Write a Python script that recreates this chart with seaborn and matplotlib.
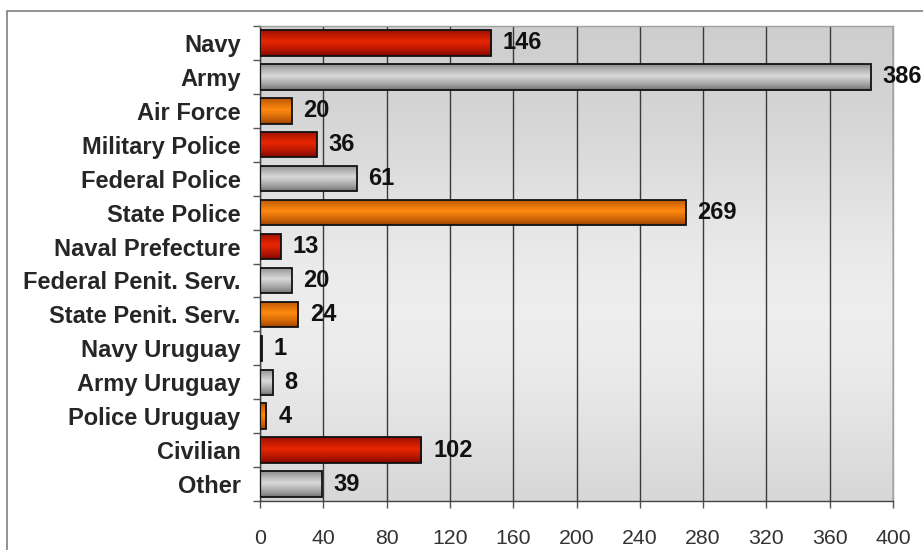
import numpy as np
import pandas as pd
import matplotlib
matplotlib.use("Agg")
import matplotlib.pyplot as plt
import seaborn as sns
from matplotlib.patches import Rectangle
from matplotlib.colors import to_rgb

# ── data ─────────────────────────────────────────────
categories = ["Navy", "Army", "Air Force", "Military Police", "Federal Police",
              "State Police", "Naval Prefecture", "Federal Penit. Serv.",
              "State Penit. Serv.", "Navy Uruguay", "Army Uruguay",
              "Police Uruguay", "Civilian", "Other"]
values = [146, 386, 20, 36, 61, 269, 13, 20, 24, 1, 8, 4, 102, 39]
x_ticks = list(range(0, 401, 40))

# colour cycle red / grey / orange, (edge shade, centre shade)
shades = [("#8a0a00", "#e82600"), ("#7c7c7c", "#d9d9d9"), ("#a84800", "#ff8a10")]

sns.set_theme(style="white")
plt.rcParams["font.family"] = ["Liberation Sans", "DejaVu Sans"]

df = pd.DataFrame({"cat": categories, "val": values})
pal = {c: shades[i % 3][1] for i, c in enumerate(categories)}

fig = plt.figure(figsize=(9.23, 5.5), dpi=100)
ax = fig.add_axes([260 / 923, 1 - 501 / 550, (893 - 260) / 923, (501 - 26) / 550])

sns.barplot(data=df, x="val", y="cat", hue="cat", palette=pal, legend=False,
            orient="h", width=0.75, ax=ax, edgecolor="#111111", linewidth=1.3,
            zorder=3)

# background gradient of the plotting area
t = np.linspace(0, 1, 200)
bg = 0.80 + 0.13 * np.exp(-((t - 0.6) / 0.35) ** 2)
bg_img = np.repeat(bg[:, None], 3, axis=1)[:, None, :]
ax.imshow(bg_img, extent=[0, 400, 14.0, -1.0], aspect="auto", zorder=0)

# bar gradients, clipped to each bar
for i, patch in enumerate(ax.patches):
    dark, light = (np.array(to_rgb(c)) for c in shades[i % 3])
    s = np.linspace(0, 1, 60)
    w = np.clip(1 - np.abs(s - 0.45) / 0.5, 0, 1) ** 0.8
    g = dark[None, :] * (1 - w[:, None]) + light[None, :] * w[:, None]
    x0, y0 = patch.get_x(), patch.get_y()
    pw, ph = patch.get_width(), patch.get_height()
    im = ax.imshow(g[:, None, :], extent=[x0, x0 + pw, y0 + ph, y0],
                   aspect="auto", zorder=2.5)
    im.set_clip_path(patch)
    patch.set_facecolor("none")
    ax.annotate(f"{values[i]}", (x0 + pw, y0 + ph / 2), xytext=(8.5, 0),
                textcoords="offset points", va="center", ha="left",
                fontsize=17, fontweight="bold", color="#111111", zorder=4)

ax.set_xlim(0, 400)
ax.set_ylim(13.5, -0.5)
ax.set_xticks(x_ticks)
ax.grid(axis="x", color="#3a3a3a", linewidth=1, zorder=1)
ax.set_axisbelow(True)
ax.set_xlabel("")
ax.set_ylabel("")

ax.set_yticks(np.arange(-0.5, 14, 1), minor=True)
ax.tick_params(axis="y", which="major", length=0, pad=14, labelsize=17)
ax.tick_params(axis="y", which="minor", left=True, length=5, width=1, color="#555555")
ax.tick_params(axis="x", bottom=True, length=5, width=1, color="#555555",
               pad=15, labelsize=15.3, labelcolor="#333333")
for lab in ax.get_yticklabels():
    lab.set_fontweight("bold")

for side in ["left", "bottom"]:
    ax.spines[side].set_color("#444444")
    ax.spines[side].set_linewidth(1)
for side in ["top", "right"]:
    ax.spines[side].set_color("#a0a0a0")
    ax.spines[side].set_linewidth(1)

# outer frame
fig.patches.append(Rectangle((7 / 923, -0.1), 1.2, 1.1 - 11 / 550,
                             transform=fig.transFigure, fill=False,
                             edgecolor="#808080", linewidth=1.2))

fig.savefig("out.png", dpi=100)
